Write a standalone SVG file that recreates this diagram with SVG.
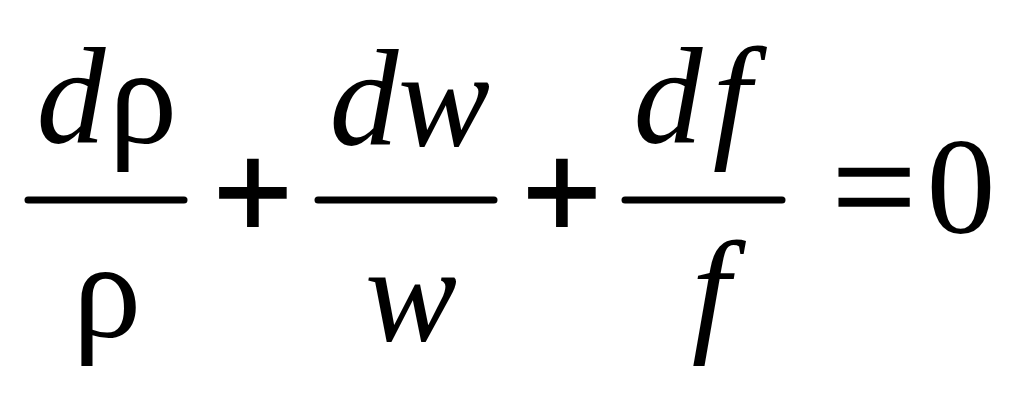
<svg xmlns="http://www.w3.org/2000/svg" width="1024" height="410" viewBox="0 0 1024 410">
<style>
.v{font-family:"Liberation Serif","Times New Roman",serif;font-style:italic;font-size:138px;fill:#000;text-anchor:middle}
.g{font-family:"Liberation Serif","Times New Roman",serif;font-size:138px;fill:#000;text-anchor:middle}
.op{font-family:"Liberation Sans",Arial,sans-serif;font-size:135px;fill:#000;stroke:#000;stroke-width:2;text-anchor:middle}
.eq{font-family:"Liberation Serif","Times New Roman",serif;font-size:150px;fill:#000;stroke:#000;stroke-width:1.5;text-anchor:middle}
.bar{stroke:#000;stroke-width:7;stroke-linecap:round;fill:none}
</style>
<rect width="1024" height="410" fill="#fff"/>
<g id="frac1">
<text class="v" x="71" y="143">d</text>
<text class="g" x="143" y="143">ρ</text>
<line class="bar" x1="28" y1="200" x2="184" y2="200"/>
<text class="g" x="107" y="337">ρ</text>
</g>
<g id="plus1"><text class="op" x="253" y="238">+</text></g>
<g id="frac2">
<text class="v" x="364" y="145">d</text>
<text class="v" x="444" y="146">w</text>
<line class="bar" x1="318" y1="200" x2="494" y2="200"/>
<text class="v" x="411" y="341">w</text>
</g>
<g id="plus2"><text class="op" x="562" y="238">+</text></g>
<g id="frac3">
<text class="v" x="668" y="143">d</text>
<text class="v" x="732" y="143">f</text>
<line class="bar" x1="625" y1="200" x2="782" y2="200"/>
<text class="v" x="711" y="337">f</text>
</g>
<g id="rhs">
<text class="eq" x="874" y="237">=</text>
<text class="g" x="961" y="233">0</text>
</g>
</svg>
